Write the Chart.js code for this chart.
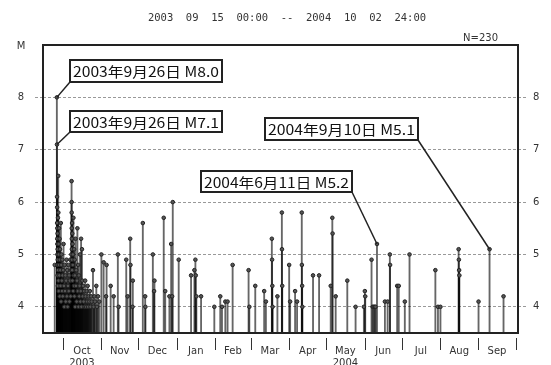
<!DOCTYPE html>
<html>
<head>
<meta charset="utf-8">
<script src="https://cdn.jsdelivr.net/npm/chart.js@4.4.0/dist/chart.umd.min.js"></script>
<style>
html, body { margin: 0; padding: 0; background: #fff; }
</style>
</head>
<body>
<canvas id="chart" width="551" height="365"></canvas>
<script>
// days after 2003-09-15 00:00
const eventDay = [
  9.5, 11.2, 11.3, 11.35, 11.4, 11.45, 11.5, 11.55, 11.6, 11.65, 11.7, 11.75, 11.8, 11.85, 11.9,
  12.0, 12.1, 12.2, 12.3, 12.4, 12.5, 12.6, 12.7, 12.8, 12.9, 13.0, 13.2, 13.4, 13.5, 13.6, 13.8,
  14.0, 14.2, 14.4, 14.6, 14.8, 15.0, 15.2, 15.4, 15.6, 15.8, 16.0, 16.3, 16.6, 16.9, 17.2, 17.5,
  17.8, 18.1, 18.4, 18.7, 19.0, 19.3, 19.6, 19.9, 20.2, 20.5, 20.8, 21.1, 21.4, 21.7, 22.0, 22.3,
  22.6, 22.9, 23.1, 23.15, 23.2, 23.25, 23.3, 23.35, 23.4, 23.5, 23.6, 23.7, 23.8, 23.9, 24.0,
  24.2, 24.4, 24.6, 24.8, 25.0, 25.2, 25.4, 25.6, 25.8, 26.0, 26.3, 26.6, 26.9, 27.2, 27.5, 27.8,
  28.1, 28.4, 28.7, 29.0, 29.3, 29.6, 29.9, 30.2, 30.5, 30.8, 31.1, 31.5, 31.8, 32.1, 32.5, 32.9,
  33.3, 33.7, 34.1, 34.5, 34.9, 35.3, 35.7, 36.1, 36.5, 36.9, 37.4, 37.9, 38.4, 38.9, 39.4, 40.4,
  40.9, 41.5, 42.0, 43.1, 43.6, 44.5, 45.5,
  47.2, 49.0, 51.0, 51.4, 54.7, 57.1, 60.5, 61.1, 67.3, 68.4, 70.5, 70.7, 72.4, 72.6, 80.7, 82.6,
  82.8, 88.8, 89.8, 90.1, 97.6, 98.8, 102.2, 103.6, 104.4, 104.9, 109.7, 119.7, 122.4, 123.2,
  123.5, 124.0, 127.8, 138.5, 143.3, 144.7, 147.4, 149.2, 153.3, 166.2, 166.8, 171.6, 178.8,
  180.2, 185.0, 185.2, 185.4, 185.6, 189.5, 193.1, 193.2, 193.4, 199.0, 199.8, 203.8, 205.4,
  209.2, 209.3, 209.5, 209.7, 218.3, 223.2, 232.6, 233.9, 234.1, 236.6, 246.0, 252.7, 259.4,
  260.2, 260.5, 265.6, 266.5, 267.3, 268.2, 268.8, 270.0, 276.4, 278.6, 280.4, 280.6, 286.3,
  287.6, 292.5, 296.3, 317.2, 319.3, 321.3, 336.0, 336.2, 336.4, 336.6, 352.1, 361.0, 372.3
];
const eventMag = [
  4.8, 8.0, 7.1, 6.1, 5.6, 5.9, 5.3, 5.5, 5.2, 5.0, 4.8, 5.4, 4.6, 5.1, 4.9,
  4.4, 5.7, 4.7, 6.5, 5.8, 4.5, 5.2, 4.3, 5.0, 4.8, 5.5, 4.6, 5.3, 4.2, 4.9, 5.1,
  4.7, 4.4, 5.6, 4.1, 4.8, 5.0, 4.5, 4.3, 4.9, 4.6, 4.2, 4.7, 5.2, 4.4, 4.0, 4.8,
  4.3, 4.6, 4.1, 4.5, 4.9, 4.2, 4.7, 4.0, 4.4, 4.8, 4.3, 4.6, 4.1, 4.5, 4.9, 4.2,
  4.7, 5.0, 6.4, 6.0, 5.8, 5.5, 5.3, 5.1, 4.9, 5.6, 4.7, 5.4, 4.5, 5.2, 4.8,
  5.0, 4.3, 5.7, 4.6, 4.4, 5.1, 4.2, 4.9, 4.6, 4.0, 5.3, 4.4, 4.7, 4.1, 4.5, 5.5,
  4.3, 4.8, 4.0, 4.6, 4.2, 4.4, 5.0, 4.1, 4.3, 5.3, 4.0, 5.1, 4.5, 4.2, 4.4, 4.1,
  4.3, 4.0, 4.5, 4.2, 4.0, 4.3, 4.1, 4.4, 4.0, 4.2, 4.1, 4.3, 4.0, 4.2, 4.1, 4.7,
  4.0, 4.2, 4.1, 4.4, 4.0, 4.2, 4.1,
  5.0, 4.85, 4.2, 4.8, 4.4, 4.2, 5.0, 4.0, 4.9, 4.2, 5.3, 4.8, 4.0, 4.5, 5.6, 4.2,
  4.0, 5.0, 4.3, 4.5, 5.7, 4.3, 4.2, 5.2, 4.2, 6.0, 4.9, 4.6, 4.7, 4.9,
  4.6, 4.2, 4.2, 4.0, 4.2, 4.0, 4.1, 4.1, 4.8, 4.7, 4.0, 4.4, 4.3,
  4.1, 5.3, 4.9, 4.4, 4.0, 4.2, 5.8, 5.1, 4.4, 4.8, 4.1, 4.3, 4.1,
  5.8, 4.8, 4.4, 4.0, 4.6, 4.6, 4.4, 5.7, 5.4, 4.2, 4.5, 4.0, 4.0,
  4.3, 4.2, 4.9, 4.0, 4.0, 4.0, 4.0, 5.2, 4.1, 4.1, 5.0, 4.8, 4.4,
  4.4, 4.1, 5.0, 4.7, 4.0, 4.0, 5.1, 4.9, 4.7, 4.6, 4.1, 5.1, 4.2
];

// month boundaries (days after 2003-09-15), Oct 2003 .. Oct 2004
const monthStarts = [16, 47, 77, 108, 139, 168, 199, 229, 260, 290, 321, 352, 382];
const monthNames = ['Oct', 'Nov', 'Dec', 'Jan', 'Feb', 'Mar', 'Apr', 'May', 'Jun', 'Jul', 'Aug', 'Sep'];
const yearUnder = ['2003', '', '', '', '', '', '', '2004', '', '', '', ''];
const magTicks = [4, 5, 6, 7, 8];

const titleText = '2003  09  15  00:00  --  2004  10  02  24:00';
const countText = 'N=230';

const calloutText = ['2003年9月26日 M8.0', '2003年9月26日 M7.1', '2004年9月10日 M5.1', '2004年6月11日 M5.2'];
const calloutDay = [11.2, 11.3, 361.0, 270.0];
const calloutMag = [8.0, 7.1, 5.1, 5.2];

// box geometry for the callouts (x, y, w, h, corner the leader leaves from)
const calloutBox = [
  { x: 70, y: 60, w: 152, h: 22, from: 'bl' },
  { x: 70, y: 111, w: 152, h: 21, from: 'bl' },
  { x: 265, y: 118, w: 153, h: 22, from: 'br' },
  { x: 201, y: 171, w: 151, h: 21, from: 'br' }
];

const points = eventDay.map((d, i) => ({ x: d, y: eventMag[i] }));

const decor = {
  id: 'decor',
  afterDraw(chart) {
    const { ctx, chartArea: a, scales: { x, y } } = chart;
    ctx.save();

    // month tick marks below the frame
    ctx.strokeStyle = '#333';
    ctx.lineWidth = 1;
    monthStarts.forEach(d => {
      const px = Math.round(x.getPixelForValue(d)) + 0.5;
      ctx.beginPath();
      ctx.moveTo(px, a.bottom + 5);
      ctx.lineTo(px, a.bottom + 17);
      ctx.stroke();
    });

    // frame
    ctx.strokeStyle = '#222';
    ctx.lineWidth = 2;
    ctx.strokeRect(a.left, a.top, a.right - a.left, a.bottom - a.top);

    // header
    ctx.fillStyle = '#333';
    ctx.textBaseline = 'middle';
    ctx.textAlign = 'center';
    ctx.font = '10.5px "DejaVu Sans Mono"';
    ctx.fillText(titleText, 287, 18);
    ctx.textAlign = 'right';
    ctx.font = '10px "DejaVu Sans"';
    ctx.fillText(countText, 498, 38);
    ctx.textAlign = 'center';
    ctx.fillText('M', 21, 46);

    // callouts
    calloutText.forEach((t, i) => {
      const b = calloutBox[i];
      const px = x.getPixelForValue(calloutDay[i]);
      const py = y.getPixelForValue(calloutMag[i]);
      const sx = b.from === 'bl' ? b.x : b.x + b.w;
      ctx.strokeStyle = '#222';
      ctx.lineWidth = 1.5;
      ctx.beginPath();
      ctx.moveTo(sx, b.y + b.h);
      ctx.lineTo(px, py);
      ctx.stroke();

      ctx.fillStyle = '#fff';
      ctx.fillRect(b.x, b.y, b.w, b.h);
      ctx.lineWidth = 2;
      ctx.strokeRect(b.x, b.y, b.w, b.h);

      ctx.font = '14px "Noto Sans CJK JP"';
      const tw = ctx.measureText(t).width;
      const k = (b.w - 6) / tw;
      ctx.save();
      ctx.translate(b.x + 3, b.y + b.h / 2 + 1);
      ctx.scale(k, 1);
      ctx.fillStyle = '#111';
      ctx.textAlign = 'left';
      ctx.fillText(t, 0, 0);
      ctx.restore();
    });

    ctx.restore();
  }
};

const tickFont = { family: 'DejaVu Sans', size: 10 };

new Chart(document.getElementById('chart'), {
  type: 'bar',
  data: {
    datasets: [
      {
        type: 'scatter',
        data: points,
        pointRadius: 1.8,
        pointBorderWidth: 1,
        borderColor: '#222',
        backgroundColor: '#555',
        order: 0
      },
      {
        type: 'bar',
        data: points,
        backgroundColor: 'rgba(0,0,0,0.6)',
        borderWidth: 0,
        barThickness: 1.2,
        order: 1
      }
    ]
  },
  options: {
    responsive: false,
    animation: false,
    layout: { padding: { top: 45 } },
    plugins: { legend: { display: false }, tooltip: { enabled: false } },
    scales: {
      x: {
        type: 'linear',
        min: 0,
        max: 384,
        offset: false,
        grid: { display: false },
        border: { display: false },
        afterBuildTicks: s => {
          s.ticks = monthNames.map((m, i) => ({ value: (monthStarts[i] + monthStarts[i + 1]) / 2 }));
        },
        afterFit: s => { s.height = 32; },
        ticks: {
          autoSkip: false,
          maxRotation: 0,
          padding: 4,
          color: '#333',
          font: tickFont,
          callback: (v, i) => yearUnder[i] ? [monthNames[i], yearUnder[i]] : monthNames[i]
        }
      },
      y: {
        position: 'left',
        min: 3.5,
        max: 9,
        afterBuildTicks: s => { s.ticks = magTicks.map(v => ({ value: v })); },
        afterFit: s => { s.width = 43; },
        grid: {
          color: '#999',
          tickLength: 8,
          tickBorderDash: [3, 2]
        },
        border: { display: false, dash: [3, 2] },
        ticks: { padding: 11, color: '#333', font: tickFont }
      },
      y2: {
        position: 'right',
        min: 3.5,
        max: 9,
        afterBuildTicks: s => { s.ticks = magTicks.map(v => ({ value: v })); },
        afterFit: s => { s.width = 33; },
        grid: {
          drawOnChartArea: false,
          color: '#999',
          tickLength: 9,
          tickBorderDash: [3, 2]
        },
        border: { display: false },
        ticks: { padding: 6, color: '#333', font: tickFont }
      }
    }
  },
  plugins: [decor]
});
</script>
</body>
</html>
